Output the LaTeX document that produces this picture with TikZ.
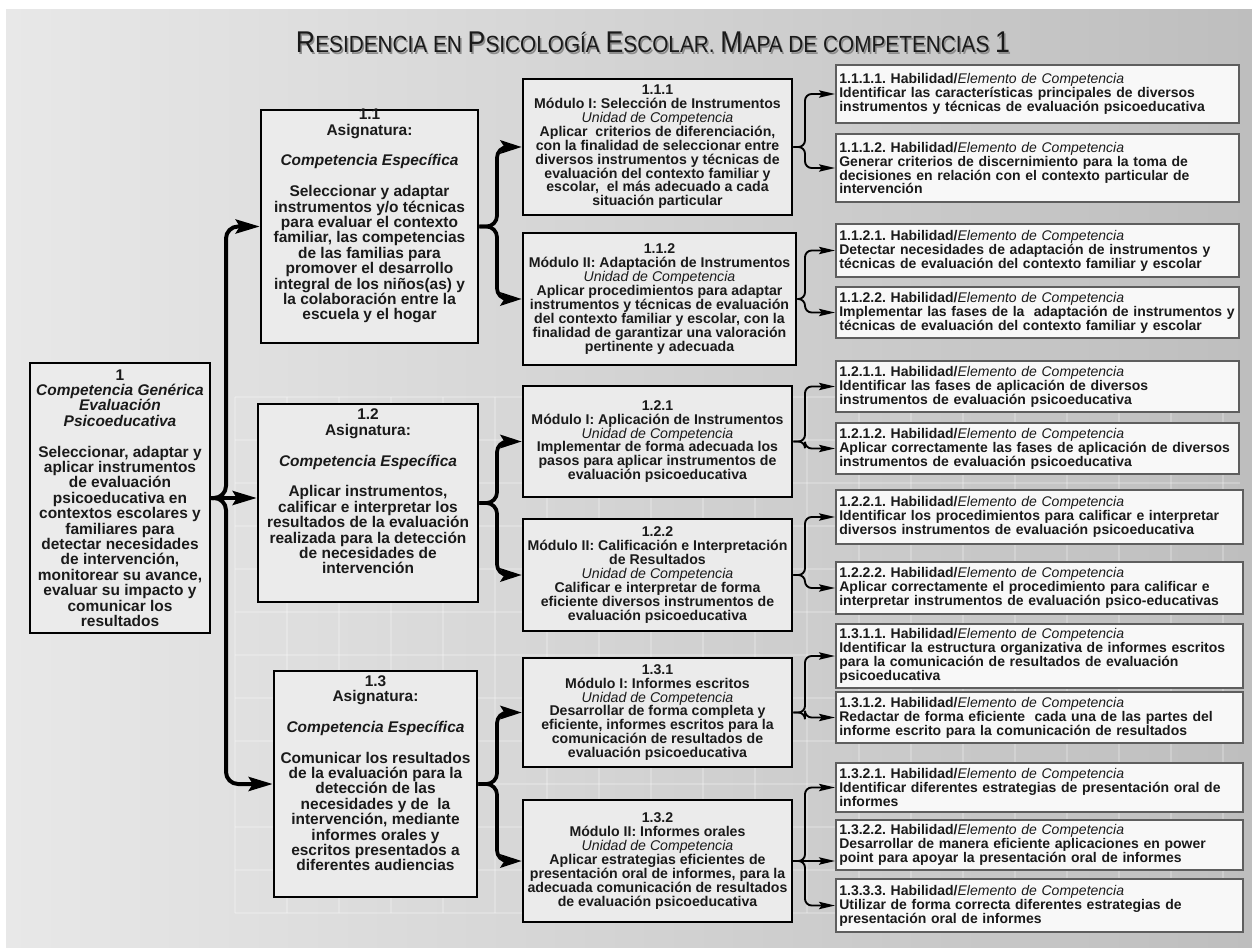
\documentclass[tikz,border=0pt]{standalone}
\usepackage{fontspec}
\setmainfont{Liberation Sans}
\usetikzlibrary{arrows.meta}
\frenchspacing
\definecolor{ink}{HTML}{1A1A1A}
\definecolor{boxfill}{HTML}{EBEBEB}
\definecolor{skillfill}{HTML}{F8F8F8}
\definecolor{skillline}{HTML}{5E5E5E}
\definecolor{bgleft}{HTML}{E8E8E8}
\definecolor{bgright}{HTML}{BEBEBE}
\newcommand{\tbig}[1]{{\fontsize{22.5}{22.5}\selectfont #1}}
\newcommand{\tsm}[1]{{\fontsize{17.5}{17.5}\selectfont #1}}
\newcommand{\titletext}{\resizebox{535.5pt}{\height}{\tbig{R}\tsm{ESIDENCIA EN }\tbig{P}\tsm{SICOLOGÍA }\tbig{E}\tsm{SCOLAR. }\tbig{M}\tsm{APA DE COMPETENCIAS }\tbig{1}}}
\newcommand{\elem}{{\mdseries\itshape Elemento de Competencia}}
\newcommand{\unid}{{\mdseries\itshape Unidad de Competencia}}
\tikzset{
 mainbox/.style={draw=black, line width=1.9pt, fill=boxfill, inner sep=0pt, text=ink},
 asigtext/.style={align=center, inner sep=0pt, text=ink, font=\fontsize{11.6}{11.55}\selectfont\bfseries},
 modbox/.style={mainbox, align=center, font=\fontsize{10.6}{10.4}\selectfont\bfseries},
 skillbox/.style={draw=skillline, line width=1.5pt, fill=skillfill, align=left, inner xsep=2.5pt, inner ysep=0pt, text=ink, font=\fontsize{10.5}{10.5}\selectfont\bfseries},
 thickconn/.style={draw=black, line width=3pt, rounded corners=9pt, -{Stealth[length=18pt,width=10.5pt,inset=3pt]}},
 midconn/.style={draw=black, line width=2.8pt, rounded corners=8pt, -{Stealth[length=16pt,width=10pt,inset=3pt]}},
 thinconn/.style={draw=black, line width=1.4pt, rounded corners=5pt, -{Stealth[length=12pt,width=5.5pt,inset=2pt]}},
 gridline/.style={draw=white, opacity=0.22, line width=1.2pt},
 titlestyle/.style={anchor=base, inner sep=0pt},
}
\begin{document}
\begin{tikzpicture}[x=0.75pt, y=-0.75pt]
\useasboundingbox (0,0) rectangle (1252,948);
\fill[white] (0,0) rectangle (1252,948);
\shade[left color=bgleft, right color=bgright] (6,10) rectangle (1252,948);
\foreach \gx in {235,287,...,1235} \draw[gridline] (\gx,397) -- (\gx,913);
\foreach \gy in {397,440,...,913} \draw[gridline] (235,\gy) -- (1240,\gy);

% title
\node[titlestyle, text=black!45] (titleshadow) at (654.5,54.5) {\titletext};
\node[titlestyle, text=ink] (title) at (653,53) {\titletext};

% level 1
\node[mainbox, align=center, minimum width=135pt, minimum height=202.5pt, font=\fontsize{11.6}{11.55}\selectfont\bfseries] (b1) at (120,498)
{1\\ \textit{Competencia Genérica}\\ \textit{Evaluación}\\ \textit{Psicoeducativa}\\[11.55pt]
Seleccionar, adaptar y\\ aplicar instrumentos\\ de evaluación\\ psicoeducativa en\\ contextos escolares y\\ familiares para\\ detectar necesidades\\ de intervención,\\ monitorear su avance,\\ evaluar su impacto y\\ comunicar los\\ resultados};

% level 2
\node[mainbox, minimum width=162.75pt, minimum height=174.75pt] (b11) at (369.5,226.5) {};
\node[asigtext, anchor=north] (t11) at (b11.north)
{1.1\\ Asignatura:\\[11.55pt] \textit{Competencia Específica}\\[11.55pt]
Seleccionar y adaptar\\ instrumentos y/o técnicas\\ para evaluar el contexto\\ familiar, las competencias\\ de las familias para\\ promover el desarrollo\\ integral de los niños(as) y\\ la colaboración entre la\\ escuela y el hogar};

\node[mainbox, minimum width=165pt, minimum height=148.5pt] (b12) at (368,503) {};
\node[asigtext, anchor=north] (t12) at ([yshift=-4.5pt]b12.north)
{1.2\\ Asignatura:\\[11.55pt] \textit{Competencia Específica}\\[11.55pt]
Aplicar instrumentos,\\ calificar e interpretar los\\ resultados de la evaluación\\ realizada para la detección\\ de necesidades de\\ intervención};

\node[mainbox, minimum width=152.25pt, minimum height=169.5pt] (b13) at (375.5,784) {};
\node[asigtext, anchor=north] (t13) at ([yshift=-4pt]b13.north)
{1.3\\ Asignatura:\\[11.55pt] \textit{Competencia Específica}\\[11.55pt]
Comunicar los resultados\\ de la evaluación para la\\ detección de las\\ necesidades y de \ la\\ intervención, mediante\\ informes orales y\\ escritos presentados a\\ diferentes audiencias};

% level 3
\node[modbox, minimum width=201.75pt, minimum height=102pt] (b111) at (657.5,147)
{1.1.1\\ Módulo I: Selección de Instrumentos\\ \unid\\ Aplicar \ criterios de diferenciación,\\ con la finalidad de seleccionar entre\\ diversos instrumentos y técnicas de\\ evaluación del contexto familiar y\\ escolar, \ el más adecuado a cada\\ situación particular};
\node[modbox, minimum width=204.75pt, minimum height=99pt] (b112) at (659.5,299)
{1.1.2\\ Módulo II: Adaptación de Instrumentos\\ \unid\\ Aplicar procedimientos para adaptar\\ instrumentos y técnicas de evaluación\\ del contexto familiar y escolar, con la\\ finalidad de garantizar una valoración\\ pertinente y adecuada};
\node[modbox, minimum width=201.75pt, minimum height=83.25pt] (b121) at (657.5,441.5)
{1.2.1\\ Módulo I: Aplicación de Instrumentos\\ \unid\\ Implementar de forma adecuada los\\ pasos para aplicar instrumentos de\\ evaluación psicoeducativa};
\node[modbox, minimum width=201.75pt, minimum height=84pt] (b122) at (657.5,575)
{1.2.2\\ Módulo II: Calificación e Interpretación\\ de Resultados\\ \unid\\ Calificar e interpretar de forma\\ eficiente diversos instrumentos de\\ evaluación psicoeducativa};
\node[modbox, minimum width=201.75pt, minimum height=81.75pt] (b131) at (657.5,712.5)
{1.3.1\\ Módulo I: Informes escritos\\ \unid\\ Desarrollar de forma completa y\\ eficiente, informes escritos para la\\ comunicación de resultados de\\ evaluación psicoeducativa};
\node[modbox, minimum width=201.75pt, minimum height=91.5pt] (b132) at (657.5,861)
{1.3.2\\ Módulo II: Informes orales\\ \unid\\ Aplicar estrategias eficientes de\\ presentación oral de informes, para la\\ adecuada comunicación de resultados\\ de evaluación psicoeducativa};

% level 4
\node[skillbox, text width=297.25pt, minimum height=43.5pt] (s1111) at (1037.5,94)
{1.1.1.1. Habilidad/\elem\\ Identificar las características principales de diversos\\ instrumentos y técnicas de evaluación psicoeducativa};
\node[skillbox, text width=297.25pt, minimum height=51pt] (s1112) at (1037.5,168)
{1.1.1.2. Habilidad/\elem\\ Generar criterios de discernimiento para la toma de\\ decisiones en relación con el contexto particular de\\ intervención};
\node[skillbox, text width=297.25pt, minimum height=39.75pt] (s1121) at (1037.5,250.5)
{1.1.2.1. Habilidad/\elem\\ Detectar necesidades de adaptación de instrumentos y\\ técnicas de evaluación del contexto familiar y escolar};
\node[skillbox, text width=297.25pt, minimum height=38.25pt] (s1122) at (1037.5,312.5)
{1.1.2.2. Habilidad/\elem\\ Implementar las fases de la \ adaptación de instrumentos y\\ técnicas de evaluación del contexto familiar y escolar};
\node[skillbox, text width=297.25pt, minimum height=38.25pt] (s1211) at (1037.5,386.5)
{1.2.1.1. Habilidad/\elem\\ Identificar las fases de aplicación de diversos\\ instrumentos de evaluación psicoeducativa};
\node[skillbox, text width=297.25pt, minimum height=38.25pt] (s1212) at (1037.5,448.5)
{1.2.1.2. Habilidad/\elem\\ Aplicar correctamente las fases de aplicación de diversos\\ instrumentos de evaluación psicoeducativa};
\node[skillbox, text width=300.25pt, minimum height=40.5pt] (s1221) at (1039.5,517)
{1.2.2.1. Habilidad/\elem\\ Identificar los procedimientos para calificar e interpretar\\ diversos instrumentos de evaluación psicoeducativa};
\node[skillbox, text width=300.25pt, minimum height=39pt] (s1222) at (1039.5,588)
{1.2.2.2. Habilidad/\elem\\ Aplicar correctamente el procedimiento para calificar e\\ interpretar instrumentos de evaluación psico-educativas};
\node[skillbox, text width=300.25pt, minimum height=48pt] (s1311) at (1039.5,656)
{1.3.1.1. Habilidad/\elem\\ Identificar la estructura organizativa de informes escritos\\ para la comunicación de resultados de evaluación\\ psicoeducativa};
\node[skillbox, text width=300.25pt, minimum height=38.25pt] (s1312) at (1039.5,717.5)
{1.3.1.2. Habilidad/\elem\\ Redactar de forma eficiente \ cada una de las partes del\\ informe escrito para la comunicación de resultados};
\node[skillbox, text width=300.25pt, minimum height=36.75pt] (s1321) at (1039.5,787.5)
{1.3.2.1. Habilidad/\elem\\ Identificar diferentes estrategias de presentación oral de\\ informes};
\node[skillbox, text width=300.25pt, minimum height=37.5pt] (s1322) at (1039.5,845)
{1.3.2.2. Habilidad/\elem\\ Desarrollar de manera eficiente aplicaciones en power\\ point para apoyar la presentación oral de informes};
\node[skillbox, text width=300.25pt, minimum height=39.75pt] (s1333) at (1039.5,905.5)
{1.3.3.3. Habilidad/\elem\\ Utilizar de forma correcta diferentes estrategias de\\ presentación oral de informes};

% trunks
\coordinate (trA) at (226,0);
\coordinate (trB) at (497,0);
\coordinate (trC) at (805,0);

% connectors level 1 -> 2
\draw[thickconn] (b1.east) -- (b1.east -| trA) |- (b11.west);
\draw[thickconn] (b1.east) -- (b1.east -| trA) |- (b13.west);
\draw[thickconn] (b1.east) -- (b1.east -| b12.west);

% level 2 -> 3
\draw[midconn] (b11.east) -- (b11.east -| trB) |- (b111.west);
\draw[midconn] (b11.east) -- (b11.east -| trB) |- (b112.west);
\draw[midconn] (b12.east) -- (b12.east -| trB) |- (b121.west);
\draw[midconn] (b12.east) -- (b12.east -| trB) |- (b122.west);
\draw[midconn] (b13.east) -- (b13.east -| trB) |- (b131.west);
\draw[midconn] (b13.east) -- (b13.east -| trB) |- (b132.west);

% level 3 -> 4
\draw[thinconn] (b111.east) -- (b111.east -| trC) |- (s1111.west);
\draw[thinconn] (b111.east) -- (b111.east -| trC) |- (s1112.west);
\draw[thinconn] (b112.east) -- (b112.east -| trC) |- (s1121.west);
\draw[thinconn] (b112.east) -- (b112.east -| trC) |- (s1122.west);
\draw[thinconn] (b121.east) -- (b121.east -| trC) |- (s1211.west);
\draw[thinconn] (b121.east) -- (b121.east -| trC) |- (s1212.west);
\draw[thinconn] (b122.east) -- (b122.east -| trC) |- (s1221.west);
\draw[thinconn] (b122.east) -- (b122.east -| trC) |- (s1222.west);
\draw[thinconn] (b131.east) -- (b131.east -| trC) |- (s1311.west);
\draw[thinconn] (b131.east) -- (b131.east -| trC) |- (s1312.west);
\draw[thinconn] (b132.east) -- (b132.east -| trC) |- (s1321.west);
\draw[thinconn] (b132.east) -- (b132.east -| s1322.west);
\draw[thinconn] (b132.east) -- (b132.east -| trC) |- (s1333.west);
\end{tikzpicture}
\end{document}
